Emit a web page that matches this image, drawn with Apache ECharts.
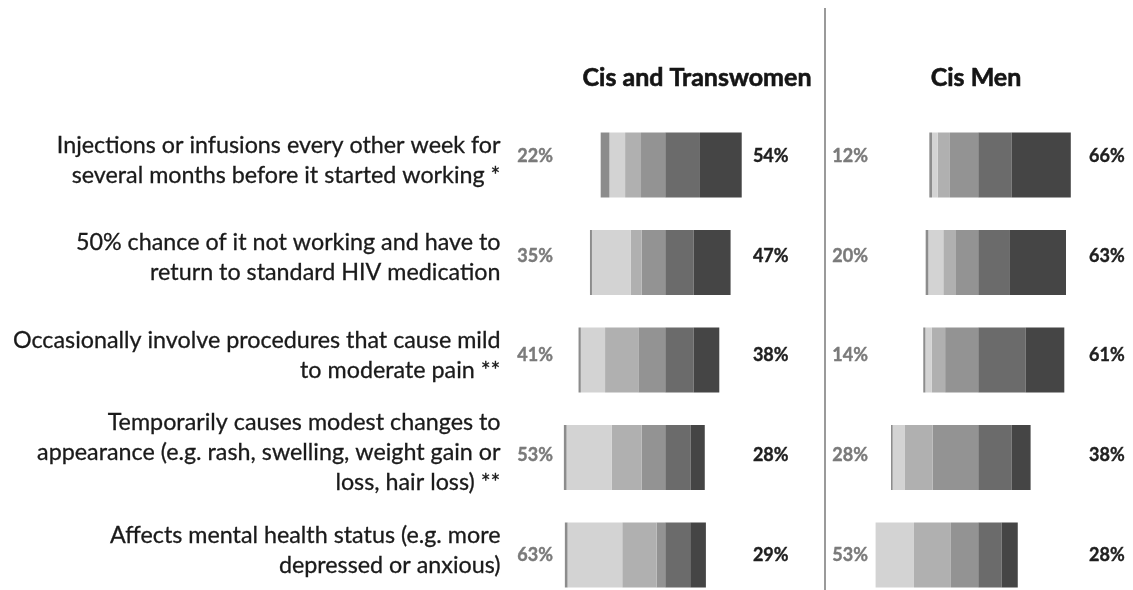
<!DOCTYPE html>
<html>
<head>
<meta charset="utf-8">
<script src="https://cdn.jsdelivr.net/npm/echarts@6/dist/echarts.min.js"></script>
<style>
  html, body { margin: 0; padding: 0; background: #fff; }
  #chart { width: 1133px; height: 590px; }
</style>
</head>
<body>
<div id="chart"></div>
<script>
// row labels (top to bottom)
var categories = [
  'Injections or infusions every other week for\nseveral months before it started working *',
  '50% chance of it not working and have to\nreturn to standard HIV medication',
  'Occasionally involve procedures that cause mild\nto moderate pain **',
  'Temporarily causes modest changes to\nappearance (e.g. rash, swelling, weight gain or\nloss, hair loss) **',
  'Affects mental health status (e.g. more\ndepressed or anxious)'
];

// Cis and Transwomen, % of respondents
var womenNoAnswer = [6.2, 1.4, 1.6, 1.9, 1.9];
var womenVeryNeg  = [11.1, 27.4, 17.2, 32.1, 38.8];
var womenNeg      = [11.3, 7.8, 23.6, 21.1, 24.3];
var womenNeutral  = [17.2, 16.8, 19.1, 16.8, 6.2];
var womenPos      = [24.6, 20.1, 20.1, 17.9, 17.7];
var womenVeryPos  = [29.6, 26.2, 18.2, 10.1, 11.1];
var womenLeftPct  = ['22%', '35%', '41%', '53%', '63%'];
var womenRightPct = ['54%', '47%', '38%', '28%', '29%'];

// Cis Men
var menNoAnswer = [1.9, 1.9, 1.5, 1.2, 0];
var menVeryNeg  = [4.0, 10.6, 4.5, 8.7, 27.2];
var menNeg      = [8.7, 9.0, 9.5, 19.6, 26.2];
var menNeutral  = [20.1, 15.8, 23.5, 32.4, 19.4];
var menPos      = [23.6, 22.0, 33.5, 23.6, 16.5];
var menVeryPos  = [42.0, 40.2, 27.5, 13.5, 11.5];
var menLeftPct  = ['12%', '20%', '14%', '28%', '53%'];
var menRightPct = ['66%', '63%', '61%', '38%', '28%'];

var FONT = 'Lato';
var colors = {
  noAnswer: '#8c8c8c',
  veryNeg: '#d3d3d3',
  neg: '#b0b0b0',
  neutral: '#939393',
  pos: '#6b6b6b',
  veryPos: '#454545'
};

function neg(arr) {
  return arr.map(function(v) { return -v; });
}

function barSeries(idx, stack, values, color) {
  return {
    type: 'bar',
    stack: stack,
    xAxisIndex: idx,
    yAxisIndex: idx,
    data: values,
    barWidth: 65,
    itemStyle: { color: color },
    emphasis: { disabled: true },
    silent: true
  };
}

function groupSeries(idx, stack, d) {
  // negative side: closest to zero first
  return [
    barSeries(idx, stack, neg(d.neutral), colors.neutral),
    barSeries(idx, stack, neg(d.neg), colors.neg),
    barSeries(idx, stack, neg(d.veryNeg), colors.veryNeg),
    barSeries(idx, stack, neg(d.noAnswer), colors.noAnswer),
    barSeries(idx, stack, d.pos, colors.pos),
    barSeries(idx, stack, d.veryPos, colors.veryPos)
  ];
}

var seriesArr = [].concat(
  groupSeries(0, 'w', {
    neutral: womenNeutral, neg: womenNeg, veryNeg: womenVeryNeg,
    noAnswer: womenNoAnswer, pos: womenPos, veryPos: womenVeryPos
  }),
  groupSeries(1, 'm', {
    neutral: menNeutral, neg: menNeg, veryNeg: menVeryNeg,
    noAnswer: menNoAnswer, pos: menPos, veryPos: menVeryPos
  })
);

function hiddenY(gridIndex) {
  return {
    type: 'category', gridIndex: gridIndex, data: categories, inverse: true,
    boundaryGap: false, show: false
  };
}

function labelY(gridIndex, pos, data, opts) {
  return {
    type: 'category',
    gridIndex: gridIndex,
    position: pos,
    data: data,
    inverse: true,
    boundaryGap: false,
    offset: opts.offset || 0,
    axisLine: { show: false },
    axisTick: { show: false },
    splitLine: { show: false },
    axisLabel: {
      interval: 0,
      margin: opts.margin,
      color: opts.color,
      fontFamily: FONT,
      fontSize: opts.fontSize,
      fontWeight: opts.fontWeight,
      lineHeight: opts.lineHeight,
      align: opts.align,
      textBorderColor: opts.color,
      textBorderWidth: opts.border || 0
    }
  };
}

var chart = echarts.init(document.getElementById('chart'));

var titleStyle = {
  fontFamily: FONT, fontSize: 25, fontWeight: 'bold', color: '#151515',
  textBorderColor: '#151515', textBorderWidth: 0.6
};

var option = {
  animation: false,
  title: [
    { text: 'Cis and Transwomen', left: 692, top: 60, textAlign: 'center', textStyle: titleStyle },
    { text: 'Cis Men', left: 971, top: 60, textAlign: 'center', textStyle: titleStyle }
  ],
  // rows are placed on ticks (boundaryGap false): first row at top, last at top + height
  grid: [
    { left: 559.5, width: 190.4, top: 165, height: 390 },
    { left: 872.5, width: 204.5, top: 165, height: 390 },
    { left: 559.5, width: 190.4, top: 156, height: 399 },
    { left: 872.5, width: 204.5, top: 156, height: 399 },
    { left: 559.5, width: 190.4, top: 160, height: 390 }
  ],
  xAxis: [
    { type: 'value', gridIndex: 0, min: -75, max: 60, show: false },
    { type: 'value', gridIndex: 1, min: -75, max: 70, show: false },
    { type: 'value', gridIndex: 2, min: 0, max: 1, show: false },
    { type: 'value', gridIndex: 3, min: 0, max: 1, show: false },
    { type: 'value', gridIndex: 4, min: 0, max: 1, show: false }
  ],
  yAxis: [
    hiddenY(0),
    hiddenY(1),
    labelY(4, 'left', categories, {
      offset: 53, margin: 6, color: '#1a1a1a', fontSize: 23.3, fontWeight: 'normal',
      lineHeight: 30, align: 'right', border: 0.3
    }),
    labelY(2, 'left', womenLeftPct, {
      margin: 6.5, color: '#7a7a7a', fontSize: 18, fontWeight: 'bold', align: 'right', border: 0.4
    }),
    labelY(2, 'right', womenRightPct, {
      margin: 3, color: '#1f1f1f', fontSize: 18, fontWeight: 'bold', align: 'left', border: 0.4
    }),
    labelY(3, 'left', menLeftPct, {
      margin: 4.5, color: '#7a7a7a', fontSize: 18, fontWeight: 'bold', align: 'right', border: 0.4
    }),
    labelY(3, 'right', menRightPct, {
      margin: 12, color: '#1f1f1f', fontSize: 18, fontWeight: 'bold', align: 'left', border: 0.4
    })
  ],
  graphic: [
    {
      type: 'line',
      shape: { x1: 825, y1: 8, x2: 825, y2: 590 },
      style: { stroke: '#9a9a9a', lineWidth: 2 },
      silent: true
    }
  ],
  series: seriesArr
};

chart.setOption(option);
</script>
</body>
</html>
